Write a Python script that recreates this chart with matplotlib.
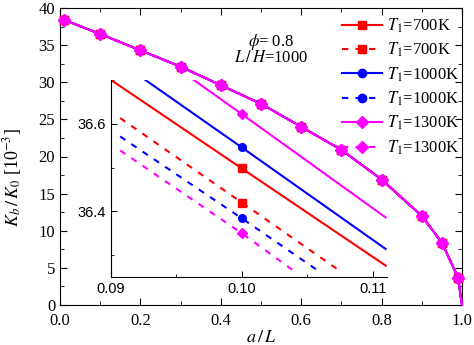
import numpy as np
import matplotlib.pyplot as plt
from matplotlib.ticker import MultipleLocator

plt.rcParams['font.family'] = 'Liberation Serif'
plt.rcParams['mathtext.fontset'] = 'stix'

# main curve (all six series overlap at this scale)
a_main = [0.01, 0.1, 0.2, 0.3, 0.4, 0.5, 0.6, 0.7, 0.8, 0.9, 0.95, 0.99, 1.0]
kb_main = [38.4, 36.5, 34.3, 32.1, 29.6, 27.1, 24.0, 20.9, 16.9, 12.0, 8.4, 3.7, 0.0]

labels = ['$T_1$=700K', '$T_1$=700K', '$T_1$=1000K', '$T_1$=1000K',
          '$T_1$=1300K', '$T_1$=1300K']
colors = ['#ff0000', '#ff0000', '#0000ff', '#0000ff', '#ff00ff', '#ff00ff']
markers = ['s', 's', 'o', 'o', 'D', 'D']
styles = ['-', '--', '-', '--', '-', '--']

# inset zoom around a/L = 0.1
ins_x = [[0.09, 0.10, 0.111], [0.0907, 0.10, 0.1073],
         [0.09, 0.10, 0.111], [0.0907, 0.10, 0.1058],
         [0.09, 0.10, 0.111], [0.0907, 0.10, 0.1043]]
ins_y = [[36.700, 36.498, 36.276], [36.613, 36.420, 36.268],
         [36.755, 36.546, 36.314], [36.571, 36.384, 36.265],
         [36.835, 36.622, 36.386], [36.539, 36.350, 36.257]]

fig = plt.figure(figsize=(4.74, 3.45), dpi=100)
ax = fig.add_axes([60/474, 40/345, 402/474, 297/345])

for i in range(6):
    ax.plot(a_main, kb_main, color=colors[i], ls=styles[i], lw=1.5,
            marker=markers[i], ms=6, markevery=list(range(len(a_main) - 1)),
            dashes=(3, 3.5) if styles[i] == '--' else (None, None),
            label=labels[i], clip_on=False, zorder=3)

ax.set_xlim(0, 1.0)
ax.set_ylim(0, 40)
ax.xaxis.set_major_locator(MultipleLocator(0.2))
ax.xaxis.set_minor_locator(MultipleLocator(0.1))
ax.yaxis.set_major_locator(MultipleLocator(5))
ax.yaxis.set_minor_locator(MultipleLocator(2.5))
ax.tick_params(which='both', direction='in', top=True, right=True, labelsize=12)
ax.tick_params(which='major', length=5)
ax.tick_params(which='minor', length=3)
ax.tick_params(axis='x', pad=6)
ax.xaxis.set_major_formatter(plt.FormatStrFormatter('%.1f'))
ax.set_xlabel('$a\\,/\\,L$', fontsize=13, labelpad=0)
ax.set_ylabel('$K_b\\,/\\,K_0$ [10$^{-3}$]', fontsize=13)
ax.yaxis.set_label_coords(-0.09, 0.43)

ax.text(0.525, 0.886, '$\\phi$= 0.8', transform=ax.transAxes, ha='center',
        va='center', fontsize=12)
ax.text(0.525, 0.83, '$L\\,/\\,H$=1000', transform=ax.transAxes, ha='center',
        va='center', fontsize=12)

leg = ax.legend(loc='upper right', bbox_to_anchor=(1.015, 1.0), frameon=False,
                fontsize=12, handlelength=2.4, handletextpad=0.3,
                labelspacing=0.36, borderaxespad=0.1)

# inset
axi = fig.add_axes([111/474, 68/345, 276/474, 197/345])
axi.patch.set_alpha(0)
for i in range(6):
    axi.plot(ins_x[i], ins_y[i], color=colors[i], ls=styles[i], lw=1.5,
             dashes=(3, 3.5) if styles[i] == '--' else (None, None))
    axi.plot(ins_x[i][1], ins_y[i][1], color=colors[i], marker=markers[i],
             ms=5.5, ls='none')
axi.set_xlim(0.09, 0.1111)
axi.set_ylim(36.25, 36.70)
axi.spines['top'].set_visible(False)
axi.spines['right'].set_visible(False)
axi.xaxis.set_major_locator(MultipleLocator(0.01))
axi.xaxis.set_minor_locator(MultipleLocator(0.005))
axi.yaxis.set_major_locator(MultipleLocator(0.2))
axi.yaxis.set_minor_locator(MultipleLocator(0.1))
axi.xaxis.set_major_formatter(plt.FormatStrFormatter('%.2f'))
axi.yaxis.set_major_formatter(plt.FormatStrFormatter('%.1f'))
axi.tick_params(which='both', direction='in', labelsize=10.5)
axi.tick_params(which='major', length=4)
axi.tick_params(which='minor', length=2.5)
for lab in axi.get_xticklabels() + axi.get_yticklabels():
    lab.set_family('Liberation Sans')

fig.savefig('out.png', dpi=100)
